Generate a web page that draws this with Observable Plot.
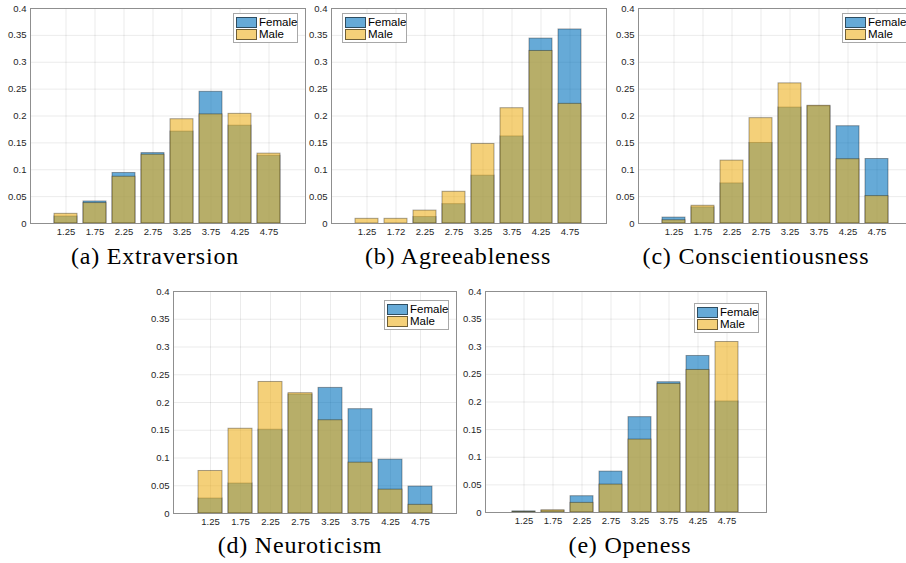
<!DOCTYPE html>
<html>
<head>
<meta charset="utf-8">
<script src="https://cdn.jsdelivr.net/npm/d3@7"></script>
<script src="https://cdn.jsdelivr.net/npm/@observablehq/plot@0.6"></script>
<style>
  html, body { margin: 0; padding: 0; background: #fff; }
  #stage { position: relative; width: 906px; height: 563px; overflow: hidden; background: #fff; }
  .panel { position: absolute; }
  .panel svg { max-width: none !important; }
  .title { position: absolute; width: 320px; text-align: center; font-family: "Liberation Serif", "DejaVu Serif", serif; font-size: 24px; line-height: 24px; letter-spacing: 0.8px; color: #000; white-space: nowrap; }
  .legend { position: absolute; width: 63px; height: 28px; background: #fff; border: 1px solid #a8a8a8; font-family: "Liberation Sans", Arial, sans-serif; font-size: 11.5px; color: #000; }
  .legend .row { position: absolute; left: 2px; height: 10px; display: flex; align-items: center; }
  .legend .sw { width: 19px; height: 9px; border: 1px solid rgba(0,0,0,0.55); margin-right: 2px; }
</style>
</head>
<body>
<div id="stage"></div>
<script>
// ---- data ----
const categories = ["1.25", "1.75", "2.25", "2.75", "3.25", "3.75", "4.25", "4.75"];
const categoriesAgreeableness = ["1.25", "1.72", "2.25", "2.75", "3.25", "3.75", "4.25", "4.75"];
const yTicks = [0, 0.05, 0.1, 0.15, 0.2, 0.25, 0.3, 0.35, 0.4];
const seriesNames = ["Female", "Male"];

const extraversionFemale = [0.013, 0.041, 0.094, 0.131, 0.171, 0.245, 0.182, 0.126];
const extraversionMale   = [0.018, 0.038, 0.087, 0.128, 0.194, 0.203, 0.204, 0.130];

const agreeablenessFemale = [0.000, 0.000, 0.012, 0.036, 0.089, 0.162, 0.344, 0.361];
const agreeablenessMale   = [0.0087, 0.0087, 0.024, 0.059, 0.148, 0.2145, 0.321, 0.2226];

const conscientiousnessFemale = [0.011, 0.030, 0.0746, 0.1498, 0.2157, 0.218, 0.181, 0.120];
const conscientiousnessMale   = [0.006, 0.033, 0.117, 0.196, 0.2607, 0.219, 0.1196, 0.051];

const neuroticismFemale = [0.027, 0.054, 0.151, 0.2144, 0.2263, 0.188, 0.097, 0.0485];
const neuroticismMale   = [0.0766, 0.1527, 0.237, 0.2168, 0.168, 0.0916, 0.043, 0.0156];

const openessFemale = [0.002, 0.003, 0.0295, 0.074, 0.1726, 0.2358, 0.2833, 0.201];
const openessMale   = [0.001, 0.004, 0.0174, 0.0505, 0.132, 0.2328, 0.258, 0.3086];

const titles = ["(a) Extraversion", "(b) Agreeableness", "(c) Conscientiousness", "(d) Neuroticism", "(e) Openess"];

// ---- layout (pixel boxes of each axes) ----
const femaleColor = "#0072BD";
const maleColor = "#EDB120";
const panels = [
  {cats: categories, f: extraversionFemale, m: extraversionMale, title: titles[0],
   L: 30, T: 8, R: 305, B: 223, legend: "right", legTop: 5, legSide: 7, titleX: 155, titleY: 244},
  {cats: categoriesAgreeableness, f: agreeablenessFemale, m: agreeablenessMale, title: titles[1],
   L: 331, T: 8, R: 606, B: 223, legend: "left", legTop: 5, legSide: 11, titleX: 458, titleY: 244},
  {cats: categories, f: conscientiousnessFemale, m: conscientiousnessMale, title: titles[2],
   L: 638, T: 8, R: 913, B: 223, legend: "right", legTop: 5, legSide: 6, titleX: 756, titleY: 244},
  {cats: categories, f: neuroticismFemale, m: neuroticismMale, title: titles[3],
   L: 173, T: 291, R: 456, B: 513, legend: "right", legTop: 9, legSide: 7, titleX: 300, titleY: 533},
  {cats: categories, f: openessFemale, m: openessMale, title: titles[4],
   L: 485, T: 291, R: 766, B: 512, legend: "right", legTop: 12, legSide: 7, titleX: 630, titleY: 533}
];

const stage = document.getElementById("stage");
const ML = 40, MR = 10, MT = 10, MB = 24;

for (const p of panels) {
  const femaleData = p.cats.map((c, i) => ({cat: c, value: p.f[i]}));
  const maleData = p.cats.map((c, i) => ({cat: c, value: p.m[i]}));
  const W = p.R - p.L + ML + MR;
  const chart = Plot.plot({
    width: W,
    height: p.B - p.T + MT + MB,
    marginLeft: ML, marginRight: MR, marginTop: MT, marginBottom: MB,
    style: {fontFamily: "'Liberation Sans', Arial, sans-serif", fontSize: "9.5px", color: "#262626", background: "transparent", maxWidth: "none"},
    x: {domain: p.cats, paddingInner: 0.2, paddingOuter: 0.8, label: null},
    y: {domain: [0, 0.4], label: null},
    marks: [
      Plot.gridY(yTicks, {stroke: "#000", strokeOpacity: 0.08}),
      Plot.gridX(p.cats, {stroke: "#000", strokeOpacity: 0.08}),
      Plot.barY(femaleData, {x: "cat", y: "value", fill: femaleColor, fillOpacity: 0.6, stroke: "#000", strokeOpacity: 0.35, strokeWidth: 1}),
      Plot.barY(maleData, {x: "cat", y: "value", fill: maleColor, fillOpacity: 0.6, stroke: "#000", strokeOpacity: 0.35, strokeWidth: 1}),
      Plot.frame({stroke: "#8f8f8f", strokeWidth: 1}),
      Plot.axisY(yTicks, {tickSize: 0, tickPadding: 4, tickFormat: d => String(+d.toFixed(2)), label: null, fill: "#262626"}),
      Plot.axisX(p.cats, {tickSize: 0, tickPadding: 5, label: null, fill: "#262626"})
    ]
  });
  const wrap = document.createElement("div");
  wrap.className = "panel";
  wrap.style.left = (p.L - ML) + "px";
  wrap.style.top = (p.T - MT) + "px";
  wrap.style.width = W + "px";
  wrap.appendChild(chart);
  stage.appendChild(wrap);

  // legend
  const leg = document.createElement("div");
  leg.className = "legend";
  leg.style.top = (p.T + p.legTop) + "px";
  if (p.legend === "right") leg.style.left = (p.R - p.legSide - 65) + "px";
  else leg.style.left = (p.L + p.legSide) + "px";
  const swColors = ["rgba(0,114,189,0.6)", "rgba(237,177,32,0.6)"];
  seriesNames.forEach((name, i) => {
    const row = document.createElement("div");
    row.className = "row";
    row.style.top = (3 + i * 12) + "px";
    const sw = document.createElement("div");
    sw.className = "sw";
    sw.style.background = swColors[i];
    row.appendChild(sw);
    const t = document.createElement("span");
    t.textContent = name;
    row.appendChild(t);
    leg.appendChild(row);
  });
  stage.appendChild(leg);

  // caption
  const title = document.createElement("div");
  title.className = "title";
  title.textContent = p.title;
  title.style.left = (p.titleX - 160) + "px";
  title.style.top = p.titleY + "px";
  stage.appendChild(title);
}
</script>
</body>
</html>
